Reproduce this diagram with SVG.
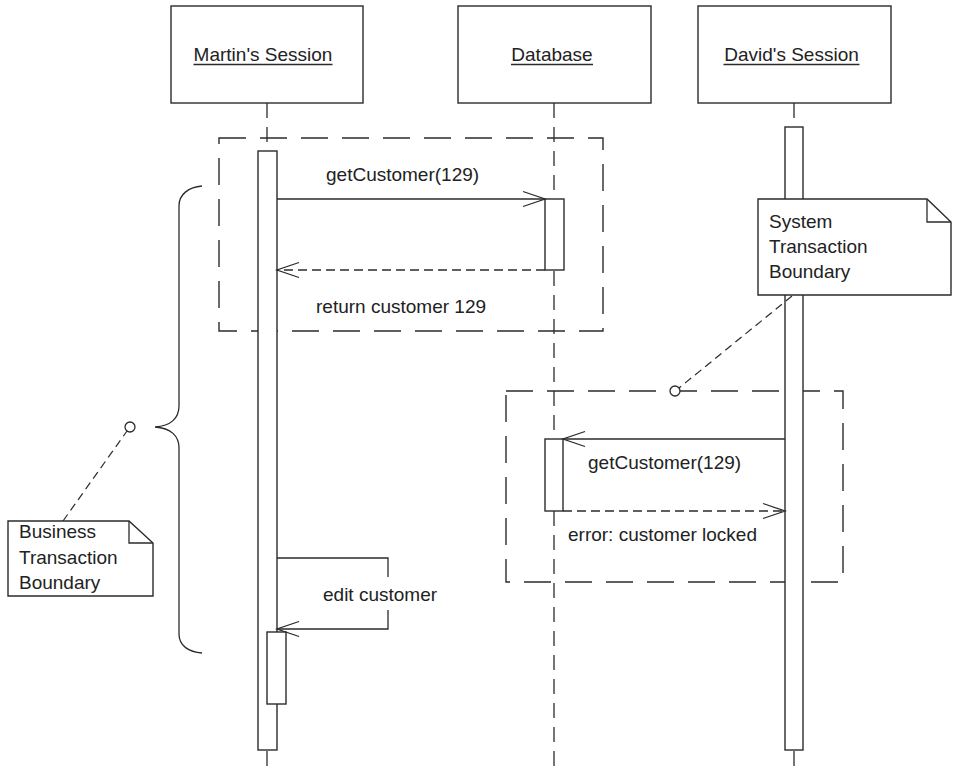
<svg xmlns="http://www.w3.org/2000/svg" width="957" height="772" viewBox="0 0 957 772">
<defs>
<style>
.box{fill:#fff;stroke:#2b2b2b;stroke-width:1.4}
.bar{fill:#fff;stroke:#2b2b2b;stroke-width:1.4}
.life{fill:none;stroke:#2b2b2b;stroke-width:1.3;stroke-dasharray:15 9}
.frame{fill:none;stroke:#2b2b2b;stroke-width:1.4;stroke-dasharray:27 14}
.msg{fill:none;stroke:#2b2b2b;stroke-width:1.3}
.ret{fill:none;stroke:#2b2b2b;stroke-width:1.3;stroke-dasharray:9 5}
.anchor{fill:none;stroke:#2b2b2b;stroke-width:1.2;stroke-dasharray:8 5}
.ul{stroke:#2b2b2b;stroke-width:1.3}
.note{fill:#fff;stroke:#2b2b2b;stroke-width:1.4}
.dot{fill:#fff;stroke:#2b2b2b;stroke-width:1.3}
text{font-family:"Liberation Sans",Arial,sans-serif;font-size:19px;fill:#222}
</style>
<marker id="open" markerUnits="userSpaceOnUse" markerWidth="30" markerHeight="20" refX="0" refY="0" viewBox="-25 -10 30 20" orient="auto" overflow="visible">
<path d="M-22,-7.5 L0,0 L-22,7.5" fill="none" stroke="#2b2b2b" stroke-width="1.3" stroke-dasharray="none"/>
</marker>
</defs>

<g id="lifelines">
<line class="life" x1="267" y1="103" x2="267" y2="772"/>
<line class="life" x1="554" y1="103" x2="554" y2="772"/>
<line class="life" x1="794" y1="103" x2="794" y2="772"/>
</g>

<g id="frame-business-system">
<rect class="frame" x="219" y="138" width="384" height="193"/>
</g>
<g id="frame-system">
<rect class="frame" x="506" y="391" width="337" height="191"/>
</g>

<g id="martin">
<rect class="box" x="171" y="6" width="192" height="97"/>
<text x="263" y="61" text-anchor="middle">Martin's Session</text>
<line class="ul" x1="193.5" y1="64.5" x2="332.5" y2="64.5"/>
</g>
<g id="database">
<rect class="box" x="458" y="6" width="193" height="97"/>
<text x="552" y="61" text-anchor="middle">Database</text>
<line class="ul" x1="511" y1="64.5" x2="593" y2="64.5"/>
</g>
<g id="david">
<rect class="box" x="698" y="6" width="193" height="97"/>
<text x="791.5" y="61" text-anchor="middle">David's Session</text>
<line class="ul" x1="723.5" y1="64.5" x2="859.5" y2="64.5"/>
</g>

<g id="activations">
<rect class="bar" x="258" y="151" width="19" height="599"/>
<rect class="bar" x="545" y="199" width="19" height="71"/>
<rect class="bar" x="785" y="127" width="18" height="623"/>
<rect class="bar" x="545" y="439" width="18" height="72"/>
<rect class="bar" x="267" y="632" width="19" height="72"/>
</g>

<g id="connectors">
<line class="msg" x1="277" y1="199" x2="545" y2="199" marker-end="url(#open)"/>
<line class="ret" x1="545" y1="270" x2="277" y2="270" marker-end="url(#open)"/>
<line class="msg" x1="785" y1="439" x2="563" y2="439" marker-end="url(#open)"/>
<line class="ret" x1="563" y1="511" x2="785" y2="511" marker-end="url(#open)"/>
<polyline class="msg" points="277,558 388,558 388,577"/>
<polyline class="msg" points="388,610 388,629 277,629" marker-end="url(#open)"/>
<line class="anchor" x1="63" y1="521" x2="127" y2="431"/>
<line class="anchor" x1="792" y1="296" x2="679" y2="388"/>
</g>

<g id="labels">
<text x="326" y="181">getCustomer(129)</text>
<text x="316" y="313">return customer 129</text>
<text x="588" y="469">getCustomer(129)</text>
<text x="568" y="541">error: customer locked</text>
<text x="323" y="601">edit customer</text>
</g>

<g id="brace">
<path class="msg" d="M202,186 C189,187 179,194 179,206 L179,406 C179,418 171,426 155,427 C171,428 179,436 179,448 L179,634 C179,646 189,652 202,653"/>
<circle class="dot" cx="130" cy="427" r="5"/>
</g>

<g id="note-business">
<path class="note" d="M8,521 L129,521 L153,543 L153,596 L8,596 Z"/>
<polyline class="msg" points="129,521 129,543 153,543"/>
<text x="19" y="538">Business</text>
<text x="19" y="564">Transaction</text>
<text x="19" y="589">Boundary</text>
</g>

<g id="note-system">
<path class="note" d="M758,199 L927,199 L951,222 L951,295 L758,295 Z"/>
<polyline class="msg" points="927,199 927,222 951,222"/>
<text x="769" y="228">System</text>
<text x="769" y="253">Transaction</text>
<text x="769" y="278">Boundary</text>
<circle class="dot" cx="675" cy="391" r="5"/>
</g>
</svg>
